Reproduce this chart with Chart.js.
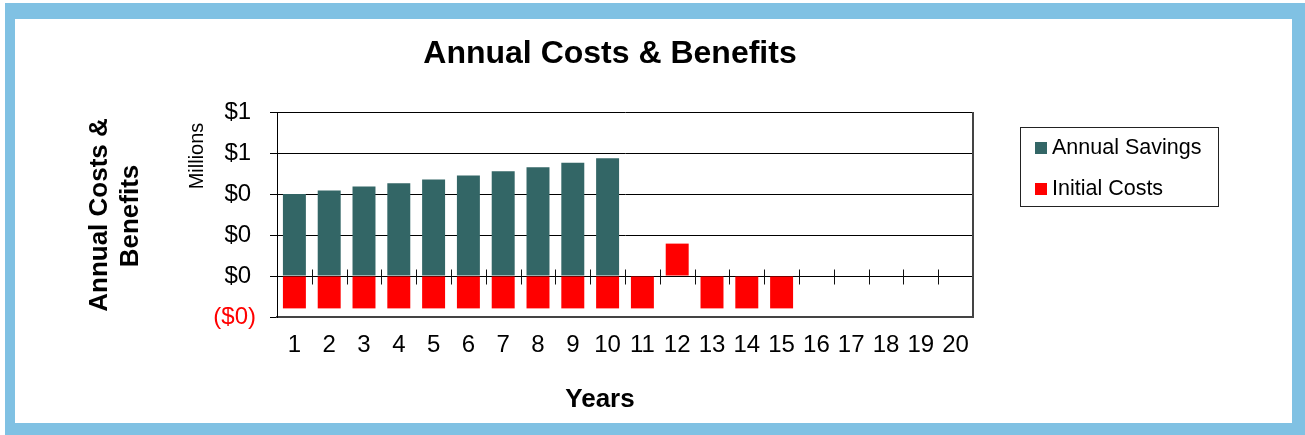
<!DOCTYPE html>
<html>
<head>
<meta charset="utf-8">
<title>Annual Costs &amp; Benefits</title>
<script src="https://cdn.jsdelivr.net/npm/chart.js@4/dist/chart.umd.min.js"></script>
<style>
  html, body { margin: 0; padding: 0; background: #fff; }
  canvas { display: block; }
</style>
</head>
<body>
<canvas id="costChart" width="1305" height="435"></canvas>
<script>
// Years along the bottom axis
const years = ['1', '2', '3', '4', '5', '6', '7', '8', '9', '10',
               '11', '12', '13', '14', '15', '16', '17', '18', '19', '20'];

// Values in millions of dollars
const annualSavings = [0.400, 0.417, 0.437, 0.453, 0.471, 0.490, 0.511, 0.530, 0.552, 0.575,
                       null, null, null, null, null, null, null, null, null, null];
const initialCosts = [-0.158, -0.158, -0.158, -0.158, -0.158, -0.158, -0.158, -0.158, -0.158, -0.158,
                      -0.158, 0.158, -0.158, -0.158, -0.158, null, null, null, null, null];

// Value axis ticks (millions)
const valueTicks = [-0.2, 0, 0.2, 0.4, 0.6, 0.8];

const FONT = "'Liberation Sans', Arial, sans-serif";

// Formats like an accounting cell: $1 / ($0), rounded to whole millions
function money(v) {
    const n = Math.round(Math.abs(v));
    return v < -1e-9 ? '($' + n + ')' : '$' + n + '\u2009';
}

// Outer frame, titles, legend and the tick marks on the zero line
const decorations = {
    id: 'decorations',
    beforeDraw(chart) {
        const c = chart.ctx;
        c.save();
        c.fillStyle = '#80c1e3';
        c.fillRect(5, 3, 1300, 432);
        c.fillStyle = '#ffffff';
        c.fillRect(15, 19, 1277, 404);
        c.restore();
    },
    afterDraw(chart) {
        const c = chart.ctx;
        const area = chart.chartArea;
        const y = chart.scales.y;
        c.save();

        // small marks between categories where the axis crosses zero
        const zero = Math.round(y.getPixelForValue(0)) + 0.5;
        const step = area.width / years.length;
        c.strokeStyle = '#111';
        c.lineWidth = 1;
        c.beginPath();
        for (let k = 1; k <= years.length; k++) {
            const x = Math.round(area.left + k * step) + 0.5;
            c.moveTo(x, zero - 7);
            c.lineTo(x, zero + 8);
        }
        c.stroke();

        // right edge of the plot area
        c.strokeStyle = '#444';
        c.lineWidth = 2;
        c.beginPath();
        c.moveTo(area.right, area.top);
        c.lineTo(area.right, area.bottom + 1);
        c.stroke();

        c.fillStyle = '#000';

        // chart title
        c.font = 'bold 32px ' + FONT;
        c.textAlign = 'center';
        c.textBaseline = 'alphabetic';
        c.fillText('Annual Costs & Benefits', 610, 63);

        // x axis title
        c.font = 'bold 26px ' + FONT;
        c.fillText('Years', 600, 407);

        // y axis title, two lines, rotated
        const vText = (text, x, yc, font) => {
            c.save();
            c.translate(x, yc);
            c.rotate(-Math.PI / 2);
            c.font = font;
            c.fillText(text, 0, 0);
            c.restore();
        };
        vText('Annual Costs &', 107, 215, 'bold 26px ' + FONT);
        vText('Benefits', 138, 216, 'bold 26px ' + FONT);
        vText('Millions', 203, 156, '20px ' + FONT);

        // legend box
        c.strokeStyle = '#222';
        c.lineWidth = 1;
        c.strokeRect(1020.5, 127.5, 198, 79);
        c.textAlign = 'left';
        c.font = '21.5px ' + FONT;
        chart.data.datasets.forEach((ds, i) => {
            const base = 154 + i * 41;
            c.fillStyle = ds.backgroundColor;
            c.fillRect(1035, base - 12, 12, 12);
            c.fillStyle = '#000';
            c.fillText(ds.label, 1052, base);
        });

        c.restore();
    }
};

document.addEventListener('DOMContentLoaded', () => {
    Chart.defaults.font.family = FONT;
    Chart.defaults.color = '#000';

    const ctx = document.getElementById('costChart').getContext('2d');
    const costChart = new Chart(ctx, {
        type: 'bar',
        data: {
            labels: years,
            datasets: [
                {
                    label: 'Annual Savings',
                    data: annualSavings,
                    backgroundColor: '#336666',
                    barPercentage: 0.66,
                    categoryPercentage: 1
                },
                {
                    label: 'Initial Costs',
                    data: initialCosts,
                    backgroundColor: '#ff0000',
                    barPercentage: 0.66,
                    categoryPercentage: 1
                }
            ]
        },
        options: {
            responsive: false,
            animation: false,
            devicePixelRatio: 1,
            layout: {
                padding: { left: 150, top: 112, right: 332, bottom: 0 }
            },
            plugins: {
                legend: { display: false },
                title: { display: false },
                tooltip: { enabled: false }
            },
            scales: {
                x: {
                    stacked: true,
                    grid: { display: false, drawTicks: false },
                    border: { display: true, color: '#444', width: 2 },
                    ticks: {
                        font: { size: 24 },
                        color: '#000',
                        padding: 14,
                        maxRotation: 0,
                        autoSkip: false
                    },
                    afterFit(scale) { scale.height = 118; }
                },
                y: {
                    stacked: true,
                    min: valueTicks[0],
                    max: valueTicks[valueTicks.length - 1],
                    afterBuildTicks(scale) {
                        scale.ticks = valueTicks.map(v => ({ value: v }));
                    },
                    grid: {
                        color: '#000',
                        lineWidth: 1,
                        drawTicks: true,
                        tickLength: 7
                    },
                    border: { display: true, color: '#000', width: 1 },
                    ticks: {
                        font: { size: 24 },
                        padding: 14,
                        color: c => (c.tick && c.tick.value < 0 ? '#ff0000' : '#000'),
                        callback: v => money(v)
                    },
                    afterFit(scale) { scale.width = 127; }
                }
            }
        },
        plugins: [decorations]
    });
});
</script>
</body>
</html>
